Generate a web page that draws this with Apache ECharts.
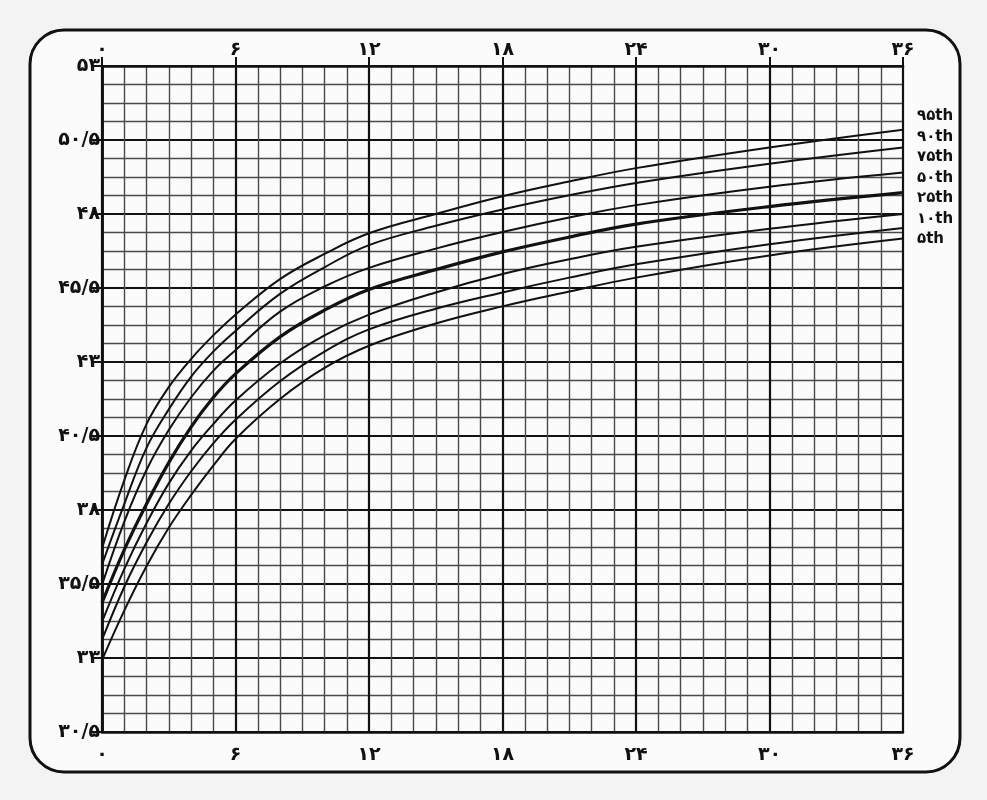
<!DOCTYPE html>
<html><head><meta charset="utf-8">
<script src="https://cdn.jsdelivr.net/npm/echarts@6/dist/echarts.min.js"></script>
<style>html,body{margin:0;padding:0;background:#f3f3f3}#c{width:987px;height:800px}</style>
</head><body><div id="c"></div>
<script>
const months = [0,1,2,3,4,5,6,8,10,12,15,18,21,24,30,36];
const p95 = [36.7,39.0,40.9,42.15,43.1,43.9,44.6,45.8,46.65,47.35,48.0,48.6,49.1,49.55,50.25,50.85];
const p90 = [36.15,38.2,40.1,41.4,42.5,43.35,44.05,45.3,46.2,46.95,47.6,48.15,48.63,49.05,49.7,50.25];
const p75 = [35.47,37.6,39.35,40.7,41.8,42.7,43.4,44.7,45.55,46.18,46.83,47.39,47.88,48.3,48.92,49.4];
const p50 = [34.86,36.65,38.2,39.6,40.8,41.8,42.6,43.85,44.75,45.45,46.12,46.72,47.22,47.66,48.25,48.72];
const p25 = [34.22,36.0,37.55,38.9,40.0,40.9,41.7,42.95,43.9,44.6,45.35,45.97,46.47,46.89,47.5,48.0];
const p10 = [33.61,35.4,36.9,38.2,39.3,40.25,41.05,42.35,43.35,44.1,44.8,45.35,45.85,46.3,46.98,47.53];
const p5  = [32.93,34.6,36.1,37.4,38.5,39.5,40.4,41.75,42.8,43.55,44.3,44.88,45.38,45.85,46.6,47.17];
const seriesList = [p95,p90,p75,p50,p25,p10,p5];
const percentileLabels = ['۹۵th','۹۰th','۷۵th','۵۰th','۲۵th','۱۰th','۵th'];
const xMin = 0, xMax = 36, xStep = 6;
const yMin = 30.5, yMax = 53, yStep = 2.5;

const fa = '۰۱۲۳۴۵۶۷۸۹';
function toFa(v){
  const s = String(Number(Number(v).toFixed(2))).replace('.', '/');
  return s.replace(/[0-9]/g, d => fa[+d]);
}
const FONT = '"DejaVu Sans", sans-serif';
const labelStyle = {color:'#111', fontSize:19, fontWeight:'bold', fontFamily:FONT};

const chart = echarts.init(document.getElementById('c'));
chart.setOption({
  backgroundColor:'#f3f3f3',
  animation:false,
  grid:{left:102, top:66, right:84, bottom:68},
  graphic:[
    {type:'rect', z:-10, shape:{x:30, y:30, width:930, height:742, r:34},
     style:{fill:'#fbfbfb', stroke:'#111', lineWidth:3}}
  ].concat(percentileLabels.map((t,i)=>({
    type:'text', z:10, left:917, top:109 + i*20.5,
    style:{text:t, fill:'#111', font:'bold 15px "DejaVu Sans", sans-serif'}
  }))),
  xAxis:[
    {type:'value', min:xMin, max:xMax, interval:xStep, position:'bottom',
     axisLine:{show:true, lineStyle:{color:'#111', width:2.5}},
     axisTick:{show:false},
     axisLabel:Object.assign({margin:14, formatter:toFa}, labelStyle),
     splitLine:{show:true, lineStyle:{color:'#111', width:2.2}},
     minorTick:{show:false, splitNumber:6},
     minorSplitLine:{show:true, lineStyle:{color:'#4a4a4a', width:1.4}}},
    {type:'value', min:xMin, max:xMax, interval:xStep, position:'top',
     axisLine:{show:true, lineStyle:{color:'#111', width:2.5}},
     axisTick:{show:true, length:9, lineStyle:{color:'#111', width:2}},
     axisLabel:Object.assign({margin:6, formatter:toFa}, labelStyle),
     splitLine:{show:false}}
  ],
  yAxis:[
    {type:'value', min:yMin, max:yMax, interval:yStep,
     axisLine:{show:true, lineStyle:{color:'#111', width:2.5}},
     axisTick:{show:true, length:10, lineStyle:{color:'#111', width:2}},
     axisLabel:Object.assign({margin:2, formatter:toFa}, labelStyle),
     splitLine:{show:true, lineStyle:{color:'#111', width:2.2}},
     minorTick:{show:false, splitNumber:4},
     minorSplitLine:{show:true, lineStyle:{color:'#4a4a4a', width:1.4}}},
    {type:'value', min:yMin, max:yMax, interval:yStep, position:'right',
     axisLine:{show:true, lineStyle:{color:'#111', width:2.5}},
     axisTick:{show:false}, axisLabel:{show:false}, splitLine:{show:false}}
  ],
  series: seriesList.map((arr,i)=>({
    type:'line', name:percentileLabels[i], xAxisIndex:0, yAxisIndex:0,
    data: months.map((m,j)=>[m, arr[j]]),
    showSymbol:false, smooth:0.4, z:5,
    lineStyle:{color:'#111', width: i===3 ? 3.2 : 2}
  }))
});
</script></body></html>
